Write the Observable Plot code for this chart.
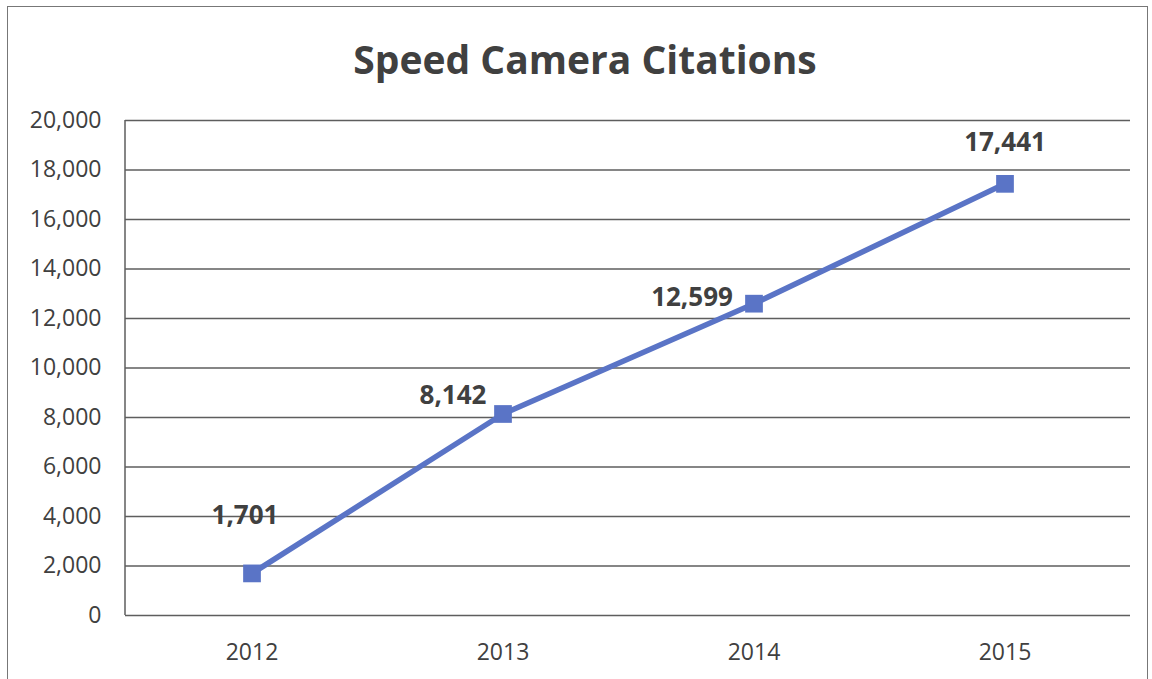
<!DOCTYPE html>
<html>
<head>
<meta charset="utf-8">
<script src="https://cdn.jsdelivr.net/npm/d3@7"></script>
<script src="https://cdn.jsdelivr.net/npm/@observablehq/plot@0.6"></script>
<style>
  html, body { margin: 0; padding: 0; background: #fff; }
  #frame { position: absolute; left: 7px; top: 6px; width: 1141px; height: 700px; border: 1.5px solid #777; box-sizing: border-box; }
  #title { position: absolute; left: 0; top: 0; width: 1170px; height: 100px; text-align: center; font-family: "Open Sans", Lato, sans-serif; font-weight: 700; font-size: 39px; color: #404040; line-height: 118px; }
  #chart { position: absolute; left: 0; top: 100px; }
</style>
</head>
<body>
<div id="frame"></div>
<div id="title">Speed Camera Citations</div>
<div id="chart"></div>
<script>
const years = ["2012", "2013", "2014", "2015"];
const citations = [1701, 8142, 12599, 17441];
const yTicks = [0, 2000, 4000, 6000, 8000, 10000, 12000, 14000, 16000, 18000, 20000];

const data = years.map((y, i) => ({year: y, value: citations[i], i}));
const fmt = d3.format(",");
const labelOffsets = [[-7, -58], [-50, -18], [-62, -6], [0, -41]];

const font = "'Open Sans', Lato, sans-serif";
const plot = Plot.plot({
  width: 1152,
  height: 579,
  marginTop: 20,
  marginBottom: 64,
  marginLeft: 125,
  marginRight: 22,
  style: {fontFamily: font, fontSize: "23px", color: "#404040", background: "transparent"},
  x: {type: "band", domain: years, padding: 0, label: null},
  y: {domain: [0, 20000], ticks: yTicks, label: null},
  marks: [
    Plot.ruleY(yTicks, {stroke: "#5e5e5e", strokeWidth: 1.5}),
    Plot.axisY({ticks: yTicks, tickSize: 0, tickPadding: 24, tickFormat: d => fmt(d), fontSize: 23, fill: "#404040"}),
    Plot.axisX({tickSize: 0, tickPadding: 28, fontSize: 23, fill: "#404040"}),
    Plot.line(data, {x: "year", y: "value", stroke: "#5a74c6", strokeWidth: 5.5}),
    Plot.dot(data, {x: "year", y: "value", symbol: "square", r: 10, fill: "#5a74c6", stroke: "none"}),
    ...data.map((d, k) => Plot.text([d], {
      x: "year", y: "value", text: d => fmt(d.value),
      dx: labelOffsets[k][0], dy: labelOffsets[k][1],
      fontSize: 26, fontWeight: 700, fill: "#404040"
    }))
  ]
});
const svg = d3.select(plot);
const ys = plot.scale("y");
svg.append("line").attr("x1", 125).attr("x2", 125).attr("y1", ys.apply(20000)).attr("y2", ys.apply(0)).attr("stroke", "#5e5e5e").attr("stroke-width", 1.5);
document.getElementById("chart").appendChild(plot);
</script>
</body>
</html>
